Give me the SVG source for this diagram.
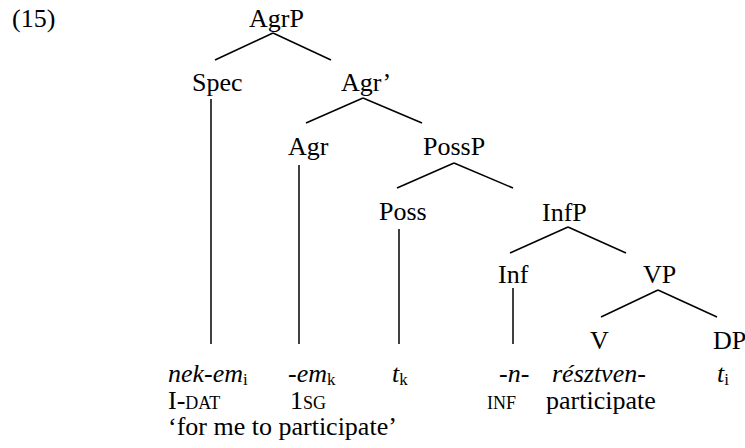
<svg xmlns="http://www.w3.org/2000/svg" width="745" height="448" viewBox="0 0 745 448" font-family="'Liberation Serif', 'DejaVu Serif', serif">
<style>
text{font-family:'Liberation Serif','DejaVu Serif',serif;font-size:26px;fill:#000}
.i{font-style:italic}
.sub{font-size:17px;font-style:normal}
.sc{font-size:18px}
.edge{stroke:#000;stroke-width:1.5;fill:none}
</style>
<rect width="745" height="448" fill="#fff"/>
<text x="12" y="27">(15)</text>
<g id="edges">
<line class="edge" x1="273" y1="33" x2="215" y2="60"/>
<line class="edge" x1="273" y1="33" x2="331" y2="60"/>
<line class="edge" x1="211" y1="99" x2="211" y2="344"/>
<line class="edge" x1="363" y1="98" x2="306" y2="123"/>
<line class="edge" x1="363" y1="98" x2="422" y2="123"/>
<line class="edge" x1="299" y1="165" x2="299" y2="344"/>
<line class="edge" x1="454" y1="163" x2="397" y2="188"/>
<line class="edge" x1="454" y1="163" x2="513" y2="188"/>
<line class="edge" x1="399" y1="229" x2="399" y2="344"/>
<line class="edge" x1="568" y1="227" x2="510" y2="253"/>
<line class="edge" x1="568" y1="227" x2="626" y2="253"/>
<line class="edge" x1="513" y1="288" x2="513" y2="344"/>
<line class="edge" x1="658" y1="290" x2="601" y2="317"/>
<line class="edge" x1="658" y1="290" x2="717" y2="317"/>
</g>
<g id="AgrP"><text x="249" y="27">AgrP</text></g>
<g id="Spec"><text x="192" y="91">Spec</text></g>
<g id="AgrBar"><text x="341" y="91">Agr’</text></g>
<g id="Agr"><text x="288" y="155">Agr</text></g>
<g id="PossP"><text x="423" y="155">PossP</text></g>
<g id="Poss"><text x="379" y="220">Poss</text></g>
<g id="InfP"><text x="542" y="221">InfP</text></g>
<g id="Inf"><text x="498" y="283">Inf</text></g>
<g id="VP"><text x="643" y="283">VP</text></g>
<g id="V"><text x="590" y="349">V</text></g>
<g id="DP"><text x="713" y="349">DP</text></g>
<g id="gloss">
<text x="168" y="382" class="i">nek-em<tspan class="sub" dy="3">i</tspan></text>
<text x="288" y="382" class="i">-em<tspan class="sub" dy="3">k</tspan></text>
<text x="392" y="382" class="i">t<tspan class="sub" dy="3">k</tspan></text>
<text x="499" y="382" class="i">-n-</text>
<text x="552" y="382" class="i">résztven-</text>
<text x="717" y="382" class="i">t<tspan class="sub" dy="3">i</tspan></text>
<text x="168" y="409">I-<tspan class="sc">DAT</tspan></text>
<text x="290" y="409">1<tspan class="sc">SG</tspan></text>
<text x="487" y="409" class="sc">INF</text>
<text x="546" y="409">participate</text>
<text x="168" y="435">‘for me to participate’</text>
</g>
</svg>
